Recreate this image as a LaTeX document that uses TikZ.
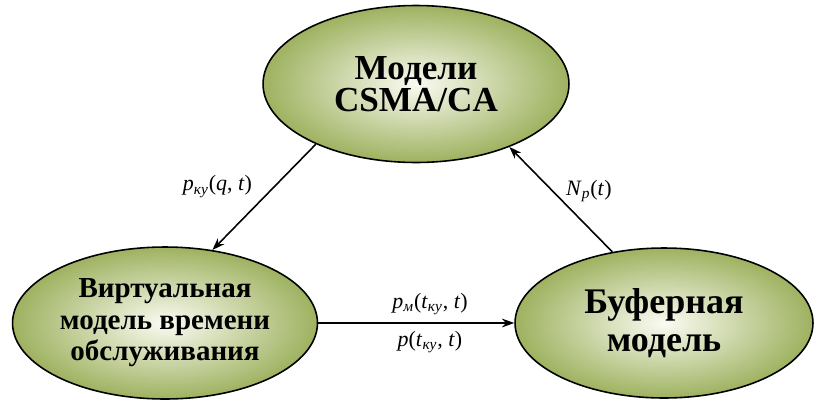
\documentclass[tikz,border=0pt]{standalone}
\usepackage{fontspec}
\setmainfont{Liberation Serif}
\usetikzlibrary{shapes, arrows.meta, positioning}
\definecolor{modelin}{RGB}{250,251,242}
\definecolor{modelout}{RGB}{158,178,96}

\begin{document}
\begin{tikzpicture}[
  x=0.02cm, y=-0.02cm,
  >={Stealth[length=7pt,width=5pt]},
  model/.style={ellipse, draw, line width=0.9pt, inner sep=0pt, shading=radial, inner color=modelin, outer color=modelout, align=center},
  arrow/.style={->, line width=0.9pt},
  lbl/.style={font=\fontsize{12.5}{14}\selectfont, inner sep=1pt}
]
  \useasboundingbox (0,0) rectangle (814,403);

  \node[model, minimum width=6.12cm, minimum height=3.14cm, font=\bfseries\fontsize{20}{18.5}\selectfont] (csma) at (416,84) {Модели\\CSMA/CA};
  \node[model, minimum width=6.1cm, minimum height=3.04cm, font=\bfseries\fontsize{16.5}{18}\selectfont] (virt) at (165,323) {Виртуальная\\модель времени\\обслуживания};
  \node[model, minimum width=5.96cm, minimum height=3cm, font=\bfseries\fontsize{20.5}{22}\selectfont] (buf) at (664,323) {Буферная\\модель};

  \draw[arrow] (csma.211) -- node[lbl, pos=0.4, left=0.4cm] {\textit{p}\textsubscript{\textit{ку}}(\textit{q}, \textit{t})} (virt.57);
  \draw[arrow] (buf.126) -- node[lbl, pos=0.58, right=0.22cm] {\textit{N}\textsubscript{\textit{p}}(\textit{t})} (csma.-34);
  \draw[arrow] (virt.east) -- node[lbl, pos=0.57, above=3pt] {\textit{p}\textsubscript{\textit{м}}(\textit{t}\textsubscript{\textit{ку}}, \textit{t})}
    node[lbl, pos=0.57, below=3pt] {\textit{p}(\textit{t}\textsubscript{\textit{ку}}, \textit{t})} (buf.west);
\end{tikzpicture}
\end{document}
